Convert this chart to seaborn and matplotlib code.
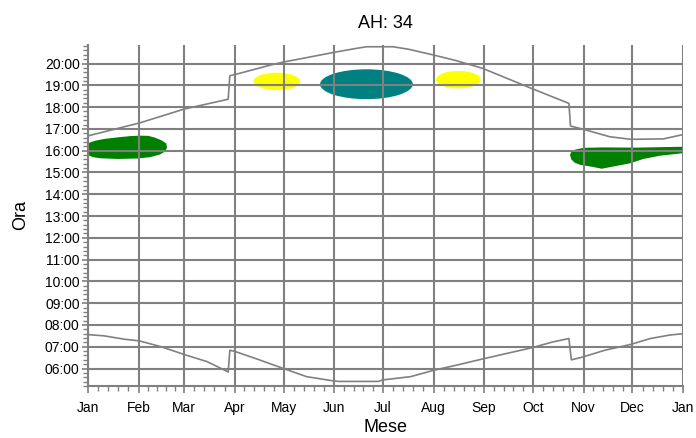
import matplotlib
matplotlib.use("Agg")
import matplotlib.pyplot as plt
import numpy as np
import pandas as pd
import seaborn as sns
from matplotlib.patches import Ellipse
from matplotlib.ticker import MultipleLocator

OUTPUT_FILE_NAME = "out.png"

# months on the x axis (day of year where each month begins)
MONTH_STARTS = [0, 31, 59, 90, 120, 151, 181, 212, 243, 273, 304, 334, 365]
MONTH_LABELS = ["Jan", "Feb", "Mar", "Apr", "May", "Jun", "Jul",
                "Aug", "Sep", "Oct", "Nov", "Dec", "Jan"]
HOUR_TICKS = list(range(6, 21))

# sunset (upper curve), hours
SUNSET_DAYS = [0, 32, 59, 86, 87, 93, 112, 120, 132, 150, 165, 171, 187,
               197, 212, 226, 242, 257, 272, 295, 296, 304, 320, 333, 353, 365]
SUNSET_HOURS = [16.68, 17.28, 17.91, 18.36, 19.44, 19.55, 19.93, 20.07, 20.24,
                20.50, 20.70, 20.77, 20.77, 20.65, 20.39, 20.13, 19.78, 19.32,
                18.86, 18.17, 17.13, 16.98, 16.64, 16.52, 16.54, 16.74]

# sunrise (lower curve), hours
SUNRISE_DAYS = [0, 10, 22, 31.5, 45, 59.6, 73, 84, 86, 87, 90, 104, 120, 134,
                150, 154, 178, 181, 198, 212, 228, 242, 256, 272, 285, 295,
                296.5, 303, 317, 333, 345, 357, 365]
SUNRISE_HOURS = [7.56, 7.50, 7.35, 7.27, 7.00, 6.63, 6.32, 5.92, 5.84, 6.84,
                 6.79, 6.43, 6.00, 5.63, 5.44, 5.41, 5.41, 5.48, 5.63, 5.92,
                 6.19, 6.44, 6.68, 6.95, 7.22, 7.38, 6.40, 6.52, 6.84, 7.11,
                 7.38, 7.54, 7.60]

# oval regions: centre day, centre hour, width (days), height (hours)
OVAL_DAYS = [115.8, 170.8, 227.2]
OVAL_HOURS = [19.18, 19.05, 19.26]
OVAL_WIDTHS = [28.7, 56.9, 27.4]
OVAL_HEIGHTS = [0.80, 1.37, 0.80]
OVAL_COLOURS = ["#ffff00", "#008080", "#ffff00"]

# irregular winter regions, outlines as (day, hour)
WINTER_A_DAYS = [0, 0, 4, 10, 18, 26, 32, 37, 41, 45, 48, 48.5, 47.5, 44,
                 38, 30, 18, 8, 3]
WINTER_A_HOURS = [15.80, 16.34, 16.45, 16.54, 16.61, 16.67, 16.69, 16.68,
                  16.60, 16.48, 16.33, 16.15, 15.97, 15.82, 15.70, 15.64,
                  15.62, 15.65, 15.70]

WINTER_B_DAYS = [296.5, 295.7, 296.5, 299, 304, 315, 336.6, 350, 364.5,
                 364.5, 351, 340.7, 332.5, 322, 315.2, 310, 302, 298.5]
WINTER_B_HOURS = [15.60, 15.80, 15.95, 16.05, 16.13, 16.15, 16.14, 16.16,
                  16.18, 15.88, 15.77, 15.62, 15.42, 15.27, 15.17, 15.25,
                  15.35, 15.45]

GRAY = "#808080"
GREEN = "#008000"

sns.set_style("white")
plt.rcParams["font.family"] = ["Liberation Sans", "DejaVu Sans"]
plt.rcParams["text.color"] = "black"
plt.rcParams["axes.labelcolor"] = "black"

fig = plt.figure(figsize=(6.96, 4.38), dpi=100)
ax = fig.add_axes([88 / 696, 1 - 386 / 438, 595 / 696, 341 / 438])

for days, hours in ((WINTER_A_DAYS, WINTER_A_HOURS), (WINTER_B_DAYS, WINTER_B_HOURS)):
    ax.fill(days, hours, color=GREEN, linewidth=0, zorder=1)
for d, h, w, ht, colour in zip(OVAL_DAYS, OVAL_HOURS, OVAL_WIDTHS,
                               OVAL_HEIGHTS, OVAL_COLOURS):
    ax.add_patch(Ellipse((d, h), w, ht, facecolor=colour, linewidth=0, zorder=1))

sunset = pd.DataFrame({"giorno": SUNSET_DAYS, "ora": SUNSET_HOURS})
sunrise = pd.DataFrame({"giorno": SUNRISE_DAYS, "ora": SUNRISE_HOURS})
for frame in (sunset, sunrise):
    sns.lineplot(data=frame, x="giorno", y="ora", ax=ax, color=GRAY,
                 linewidth=1.2, estimator=None, sort=False, zorder=3)

ax.set_xlim(0, 365)
ax.set_ylim(5.2, 20.85)

ax.set_xticks(MONTH_STARTS, labels=MONTH_LABELS)
minor_x = []
for a, b in zip(MONTH_STARTS[:-1], MONTH_STARTS[1:]):
    minor_x.extend(np.linspace(a, b, 6)[1:-1])
ax.set_xticks(minor_x, minor=True)

ax.set_yticks(HOUR_TICKS, labels=[f"{h:02d}:00" for h in HOUR_TICKS])
ax.yaxis.set_minor_locator(MultipleLocator(0.2))

ax.grid(True, which="major", color=GRAY, linewidth=1.5)
ax.set_axisbelow("line")

for side in ("top", "right"):
    ax.spines[side].set_visible(False)
for side in ("left", "bottom"):
    ax.spines[side].set_color(GRAY)
    ax.spines[side].set_linewidth(1.5)

ax.tick_params(which="both", bottom=True, left=True, direction="out",
               color=GRAY, labelcolor="black")
ax.tick_params(axis="x", which="major", length=5, width=1.2, labelsize=10, pad=6)
ax.tick_params(axis="x", which="minor", length=3.5, width=1.0)
ax.tick_params(axis="y", which="major", length=4, width=1.2, labelsize=10, pad=2)
ax.tick_params(axis="y", which="minor", length=3.5, width=1.0)

ax.set_title("AH: 34", fontsize=13, pad=12)
ax.set_xlabel("Mese", fontsize=13, labelpad=3)
ax.set_ylabel("Ora", fontsize=13, labelpad=11)

fig.savefig(OUTPUT_FILE_NAME, dpi=100)
